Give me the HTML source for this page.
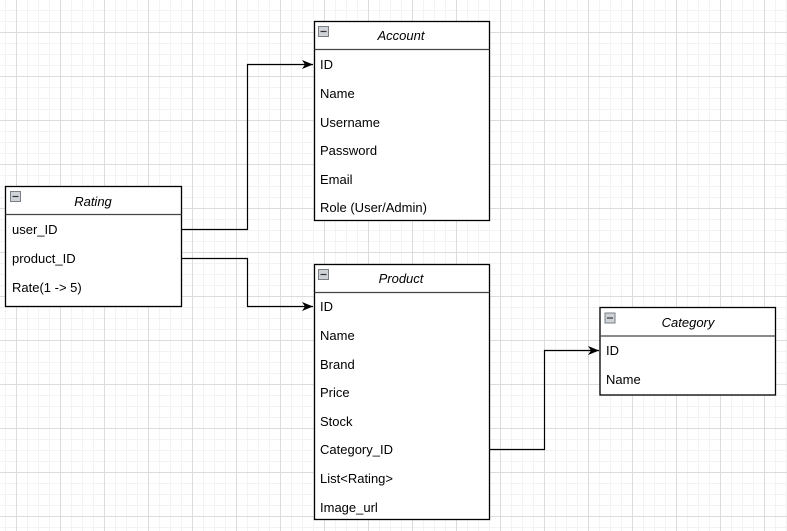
<!DOCTYPE html>
<html><head><meta charset="utf-8"><style>
html,body{margin:0;padding:0;background:#fff}
svg{display:block}
text{font-family:"Liberation Sans",Arial,sans-serif;font-size:13px;fill:#000}
.h{font-style:italic;text-anchor:middle}
</style></head><body>
<svg width="787" height="531" viewBox="0 0 787 531" xmlns="http://www.w3.org/2000/svg">
<defs>
<pattern id="mi" x="5" y="10" width="11" height="11" patternUnits="userSpaceOnUse">
<path d="M0.5 0V11M0 0.5H11" stroke="#f3f3f3" stroke-width="1" fill="none"/>
</pattern>
<pattern id="ma" x="16" y="32" width="44" height="44" patternUnits="userSpaceOnUse">
<path d="M0.5 0V44M0 0.5H44" stroke="#dcdcdc" stroke-width="1" fill="none"/>
</pattern>
<marker id="ar" markerWidth="12" markerHeight="12" refX="11" refY="6" orient="auto" markerUnits="userSpaceOnUse">
<path d="M0,1.5 L11,6 L0,10.5 L3,6 Z" fill="#000"/>
</marker>
<g id="ic"><rect x="0" y="0" width="10" height="10" fill="#cfd3d8" stroke="#7a7f86" stroke-width="1"/><line x1="2" y1="5" x2="8" y2="5" stroke="#333" stroke-width="1.2"/></g>
</defs>
<rect width="787" height="531" fill="url(#mi)"/>
<rect width="787" height="531" fill="url(#ma)"/>

<g fill="none" stroke="#000" stroke-width="1.2">
<path d="M182 229.5H247.5V64.5H313" marker-end="url(#ar)"/>
<path d="M182 258.5H247.5V306.5H313" marker-end="url(#ar)"/>
<path d="M490 449.5H544.5V350.5H599" marker-end="url(#ar)"/>
</g>

<g>
<rect x="314.5" y="21.5" width="175" height="199" fill="#fff" stroke="#000" stroke-width="1.3"/>
<line x1="314.5" y1="49.5" x2="489.5" y2="49.5" stroke="#444" stroke-width="1.3"/>
<use href="#ic" x="318.5" y="26.5"/>
<text class="h" x="401" y="40">Account</text>
<text x="320" y="69">ID</text>
<text x="320" y="98">Name</text>
<text x="320" y="127">Username</text>
<text x="320" y="155">Password</text>
<text x="320" y="184">Email</text>
<text x="320" y="212">Role (User/Admin)</text>
</g>

<g>
<rect x="5.5" y="186.5" width="176" height="120" fill="#fff" stroke="#000" stroke-width="1.3"/>
<line x1="5.5" y1="214.5" x2="181.5" y2="214.5" stroke="#444" stroke-width="1.3"/>
<use href="#ic" x="10.5" y="191.5"/>
<text class="h" x="93" y="206">Rating</text>
<text x="12" y="234">user_ID</text>
<text x="12" y="263">product_ID</text>
<text x="12" y="292">Rate(1 -&gt; 5)</text>
</g>

<g>
<rect x="314.5" y="264.5" width="175" height="255" fill="#fff" stroke="#000" stroke-width="1.3"/>
<line x1="314.5" y1="292.5" x2="489.5" y2="292.5" stroke="#444" stroke-width="1.3"/>
<use href="#ic" x="318.5" y="269.5"/>
<text class="h" x="401" y="283">Product</text>
<text x="320" y="311">ID</text>
<text x="320" y="340">Name</text>
<text x="320" y="369">Brand</text>
<text x="320" y="397">Price</text>
<text x="320" y="426">Stock</text>
<text x="320" y="454">Category_ID</text>
<text x="320" y="483">List&lt;Rating&gt;</text>
<text x="320" y="512">Image_url</text>
</g>

<g>
<rect x="600" y="307.5" width="175.5" height="87.5" fill="#fff" stroke="#000" stroke-width="1.3"/>
<line x1="600" y1="336" x2="775.5" y2="336" stroke="#444" stroke-width="1.3"/>
<use href="#ic" x="605" y="313"/>
<text class="h" x="688" y="327">Category</text>
<text x="606" y="355">ID</text>
<text x="606" y="384">Name</text>
</g>
</svg>
</body></html>
